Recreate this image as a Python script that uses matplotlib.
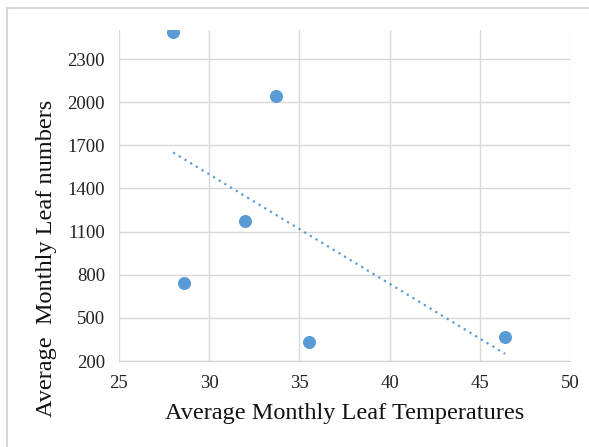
import numpy as np
import matplotlib.pyplot as plt
from matplotlib.lines import Line2D

# average monthly leaf temperature vs leaf numbers
temps = [28.0, 33.7, 32.0, 28.6, 35.55, 46.4]
leaves = [2490, 2045, 1174, 740, 330, 365]
xticks = [25, 30, 35, 40, 45, 50]
yticks = [200, 500, 800, 1100, 1400, 1700, 2000, 2300]

blue = '#5b9bd5'
plt.rcParams['font.family'] = ['Liberation Serif', 'DejaVu Serif']

fig = plt.figure(figsize=(5.89, 4.47), dpi=100)
ax = fig.add_axes([119/589, 1 - 361/447, 451/589, 331/447])

ax.scatter(temps, leaves, s=88, color=blue, zorder=3, linewidths=0)

# linear trendline
x = np.array(temps)
m, b = np.polyfit(x, np.array(leaves), 1)
xs = np.array([x.min(), x.max()])
ax.plot(xs, m * xs + b, color=blue, lw=1.6, linestyle=(0, (1, 2)), zorder=2)

ax.set_xlim(25, 50)
ax.set_ylim(200, 2502)
ax.set_xticks(xticks)
ax.set_yticks(yticks)
ax.grid(True, color='#d9d9d9', lw=1)
ax.set_axisbelow(True)
for s in ['top', 'left', 'right']:
    ax.spines[s].set_visible(False)
ax.spines['bottom'].set_color('#d0d0d0')
ax.tick_params(length=0, pad=10, labelsize=13.5, colors='#222222')

ax.set_xlabel('Average Monthly Leaf Temperatures', fontsize=17.5, labelpad=8, color='#111111')
fig.text(47/589, 1 - 258/447, 'Average  Monthly Leaf numbers', rotation=90,
         ha='center', va='center', fontsize=17.5, color='#111111')

# outer frame (only top and left visible)
fig.add_artist(Line2D([7/589, 1], [1 - 8/447, 1 - 8/447], color='#d9d9d9', lw=1.5, transform=fig.transFigure))
fig.add_artist(Line2D([7/589, 7/589], [0, 1 - 8/447], color='#d9d9d9', lw=1.5, transform=fig.transFigure))

fig.savefig('out.png', dpi=100)
